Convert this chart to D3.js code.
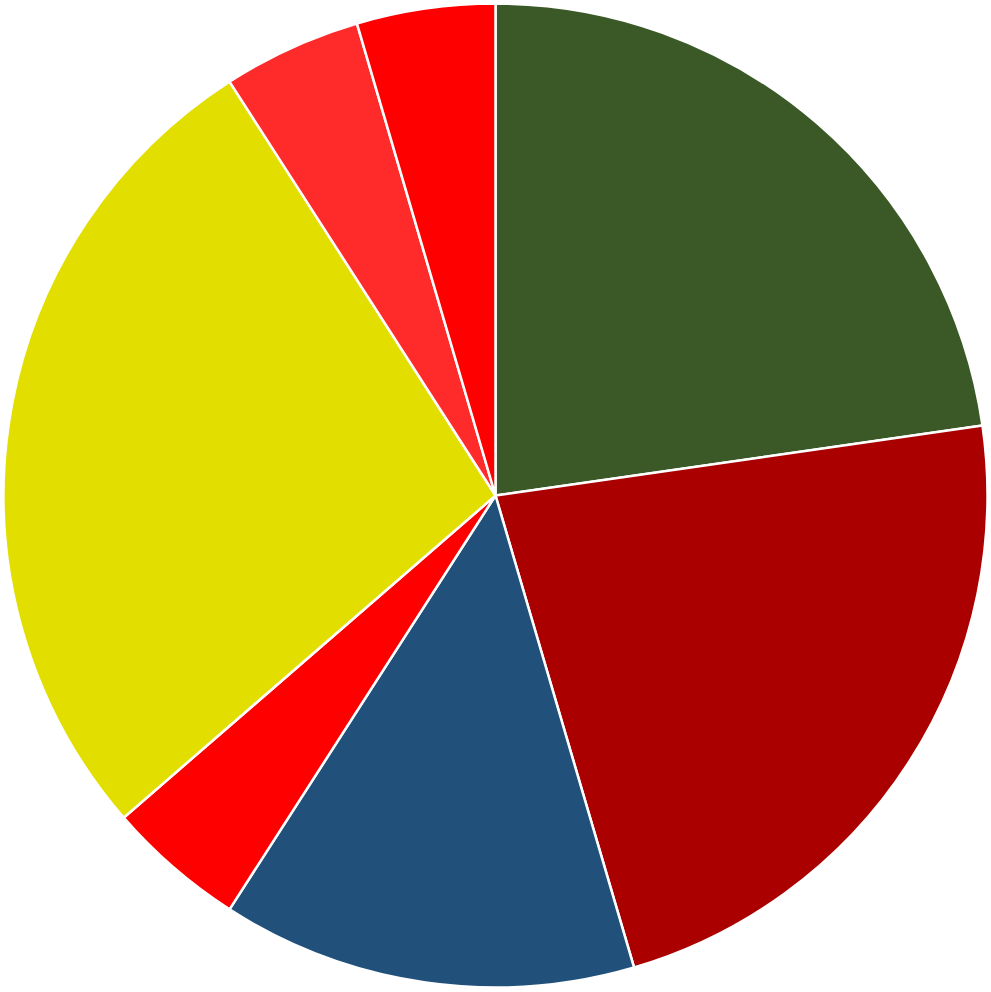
<!DOCTYPE html>
<html><head><meta charset="utf-8">
<script src="https://cdn.jsdelivr.net/npm/d3@7"></script>
<style>html,body{margin:0;padding:0;background:#fff;}svg{display:block;}</style>
</head><body>
<svg id="chart" width="991" height="992"></svg>
<script>
const categories = ["A","B","C","D","E","F","G"];
const values = [5,5,3,1,6,1,1];
const colors = ["#3b5927","#aa0000","#21517b","#ff0000","#e2df00","#ff2a2a","#ff0000"];

const svg = d3.select("#chart");
const cx = 495.5, cy = 495.5, r = 492;
const g = svg.append("g").attr("transform", `translate(${cx},${cy})`);
const pie = d3.pie().sort(null).value(d => d.v);
const arc = d3.arc().innerRadius(0).outerRadius(r);
const data = categories.map((c,i)=>({c, v: values[i], col: colors[i]}));
g.selectAll("path").data(pie(data)).join("path")
  .attr("d", arc)
  .attr("fill", d => d.data.col)
  .attr("stroke", "#fff")
  .attr("stroke-width", 2.5)
  .attr("stroke-linejoin", "round");
</script>
</body></html>
